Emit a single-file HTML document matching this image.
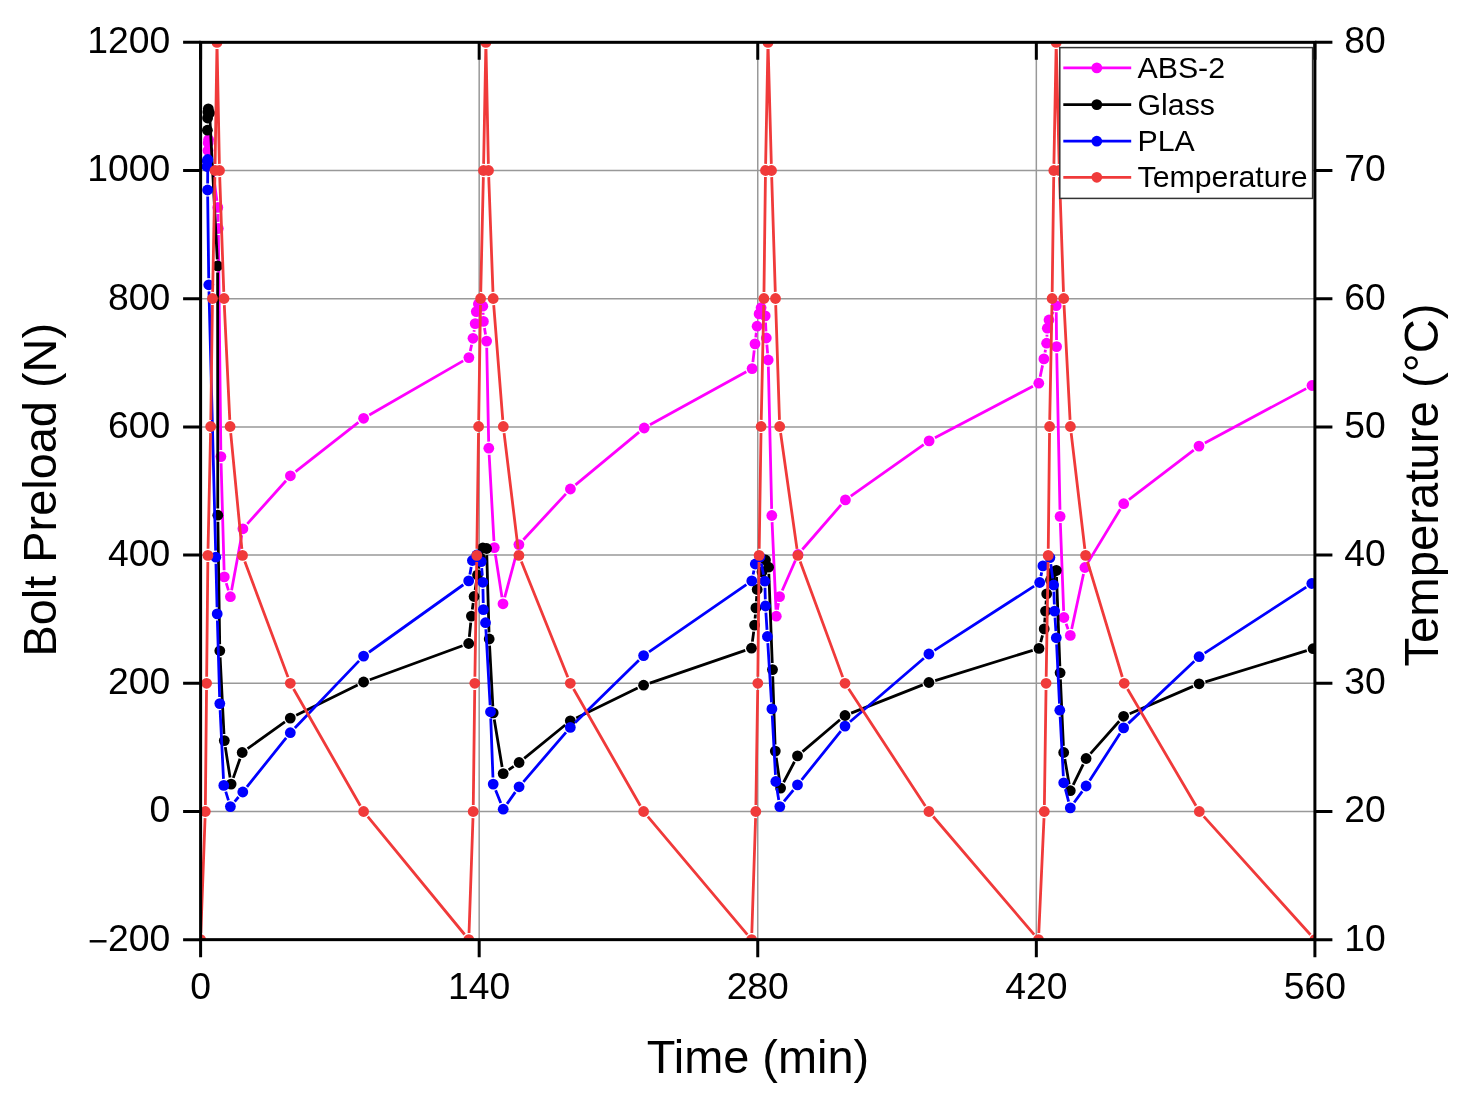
<!DOCTYPE html>
<html><head><meta charset="utf-8"><title>Bolt Preload vs Time</title>
<style>html,body{margin:0;padding:0;background:#fff;}svg{display:block;}</style>
</head><body>
<svg width="1468" height="1099" viewBox="0 0 1468 1099">
<rect x="0" y="0" width="1468" height="1099" fill="#ffffff"/>
<defs><clipPath id="pc"><rect x="200.6" y="42.32" width="1114.3000000000002" height="897.3299999999999"/></clipPath></defs>
<path d="M200.60 811.46H1314.90M200.60 683.27H1314.90M200.60 555.08H1314.90M200.60 426.89H1314.90M200.60 298.70H1314.90M200.60 170.51H1314.90M479.18 42.32V939.65M757.75 42.32V939.65M1036.33 42.32V939.65" stroke="#999999" stroke-width="1.5" fill="none"/>
<g clip-path="url(#pc)"><path d="M209.49 146.04L216.91 200.86M217.96 214.00L218.14 221.90M218.38 235.10L220.82 450.00M221.09 463.20L224.11 570.30M226.24 583.21L228.46 590.39M231.59 590.21L241.71 535.29M247.30 523.89L286.00 480.71M295.59 471.72L358.41 422.38M369.32 415.00L463.18 360.90M470.27 351.14L471.63 344.76M473.98 331.77L474.22 330.13M483.06 312.79L483.14 314.81M484.46 327.91L485.54 334.59M486.74 347.70L488.66 441.60M489.16 454.79L493.94 541.01M495.31 554.12L501.99 597.28M504.71 597.43L517.19 550.97M523.38 539.76L565.92 493.84M575.49 484.80L639.11 432.20M649.98 424.82L746.32 371.78M752.87 362.05L754.23 350.45M755.78 337.35L756.32 332.75M765.53 322.49L765.97 331.41M766.87 344.58L767.63 353.42M768.35 366.60L771.65 508.90M772.09 522.09L776.01 609.61M777.40 609.69L778.50 603.11M782.24 590.55L795.36 560.55M802.33 549.52L841.07 504.88M850.79 496.10L923.71 444.70M934.94 437.83L1032.96 386.27M1040.16 376.74L1042.54 365.36M1045.02 352.40L1045.48 349.70M1046.91 336.61L1046.99 334.79M1051.97 314.11L1053.23 311.59M1056.26 312.30L1056.54 340.00M1056.74 353.20L1059.96 509.80M1060.35 523.00L1063.65 610.90M1066.12 623.71L1068.08 629.19M1071.69 628.95L1083.51 573.95M1088.33 561.86L1120.27 509.34M1128.94 499.69L1193.76 450.11M1204.82 442.98L1306.18 388.62" stroke="#ff00ff" stroke-width="2.8" fill="none" stroke-linecap="butt"/><g fill="#ff00ff"><circle cx="208.00" cy="150.50" r="5.4"/><circle cx="208.20" cy="143.00" r="5.4"/><circle cx="208.60" cy="139.50" r="5.4"/><circle cx="217.80" cy="207.40" r="5.4"/><circle cx="218.30" cy="228.50" r="5.4"/><circle cx="220.90" cy="456.60" r="5.4"/><circle cx="224.30" cy="576.90" r="5.4"/><circle cx="230.40" cy="596.70" r="5.4"/><circle cx="242.90" cy="528.80" r="5.4"/><circle cx="290.40" cy="475.80" r="5.4"/><circle cx="363.60" cy="418.30" r="5.4"/><circle cx="468.90" cy="357.60" r="5.4"/><circle cx="473.00" cy="338.30" r="5.4"/><circle cx="475.20" cy="323.60" r="5.4"/><circle cx="476.30" cy="311.60" r="5.4"/><circle cx="478.40" cy="304.00" r="5.4"/><circle cx="482.80" cy="306.20" r="5.4"/><circle cx="483.40" cy="321.40" r="5.4"/><circle cx="486.60" cy="341.10" r="5.4"/><circle cx="488.80" cy="448.20" r="5.4"/><circle cx="494.30" cy="547.60" r="5.4"/><circle cx="503.00" cy="603.80" r="5.4"/><circle cx="518.90" cy="544.60" r="5.4"/><circle cx="570.40" cy="489.00" r="5.4"/><circle cx="644.20" cy="428.00" r="5.4"/><circle cx="752.10" cy="368.60" r="5.4"/><circle cx="755.00" cy="343.90" r="5.4"/><circle cx="757.10" cy="326.20" r="5.4"/><circle cx="759.10" cy="313.90" r="5.4"/><circle cx="761.10" cy="307.70" r="5.4"/><circle cx="765.20" cy="315.90" r="5.4"/><circle cx="766.30" cy="338.00" r="5.4"/><circle cx="768.20" cy="360.00" r="5.4"/><circle cx="771.80" cy="515.50" r="5.4"/><circle cx="776.30" cy="616.20" r="5.4"/><circle cx="779.60" cy="596.60" r="5.4"/><circle cx="798.00" cy="554.50" r="5.4"/><circle cx="845.40" cy="499.90" r="5.4"/><circle cx="929.10" cy="440.90" r="5.4"/><circle cx="1038.80" cy="383.20" r="5.4"/><circle cx="1043.90" cy="358.90" r="5.4"/><circle cx="1046.60" cy="343.20" r="5.4"/><circle cx="1047.30" cy="328.20" r="5.4"/><circle cx="1049.00" cy="320.00" r="5.4"/><circle cx="1056.20" cy="305.70" r="5.4"/><circle cx="1056.60" cy="346.60" r="5.4"/><circle cx="1060.10" cy="516.40" r="5.4"/><circle cx="1063.90" cy="617.50" r="5.4"/><circle cx="1070.30" cy="635.40" r="5.4"/><circle cx="1084.90" cy="567.50" r="5.4"/><circle cx="1123.70" cy="503.70" r="5.4"/><circle cx="1199.00" cy="446.10" r="5.4"/><circle cx="1312.00" cy="385.50" r="5.4"/></g></g>
<g clip-path="url(#pc)"><path d="M209.94 119.59L217.26 259.31M217.61 272.50L217.79 508.60M217.90 521.80L219.70 644.20M220.13 657.39L223.97 734.01M225.32 747.12L230.08 777.58M233.29 777.87L240.01 758.73M247.57 748.66L284.93 721.94M296.22 715.18L357.68 684.92M369.80 679.73L462.50 645.77M469.35 636.93L470.75 622.67M472.30 609.56L473.20 603.04M475.13 589.98L476.47 581.52M478.65 568.50L479.35 564.50M486.79 555.10L489.01 632.40M489.56 645.59L492.84 706.31M494.27 719.41L502.13 767.09M508.61 769.82L513.69 766.28M524.22 758.33L565.18 724.97M576.24 717.92L637.66 688.08M649.84 683.06L745.26 650.34M752.38 641.66L753.72 631.64M755.10 618.52L755.40 614.48M756.37 601.32L756.73 596.08M758.95 583.14L760.25 578.36M768.85 573.80L772.25 663.00M772.73 676.20L775.07 744.50M776.24 757.63L779.66 781.57M783.67 782.26L794.43 761.74M802.53 751.62L839.97 719.78M851.14 713.08L922.76 684.92M935.20 680.55L1032.70 650.35M1040.70 642.02L1042.50 635.28M1044.68 622.32L1045.02 617.68M1045.96 604.52L1046.24 600.48M1048.44 587.53L1048.76 586.37M1056.54 577.00L1059.86 666.20M1060.40 679.39L1063.40 745.91M1064.82 759.00L1069.18 784.20M1073.21 784.77L1083.19 764.43M1090.48 753.57L1119.22 721.23M1129.66 713.69L1193.04 686.41M1205.41 681.86L1306.79 650.64" stroke="#000000" stroke-width="2.8" fill="none" stroke-linecap="butt"/><g fill="#000000"><circle cx="207.40" cy="130.20" r="5.4"/><circle cx="207.60" cy="118.00" r="5.4"/><circle cx="207.90" cy="112.00" r="5.4"/><circle cx="208.30" cy="108.80" r="5.4"/><circle cx="209.60" cy="113.00" r="5.4"/><circle cx="217.60" cy="265.90" r="5.4"/><circle cx="217.80" cy="515.20" r="5.4"/><circle cx="219.80" cy="650.80" r="5.4"/><circle cx="224.30" cy="740.60" r="5.4"/><circle cx="231.10" cy="784.10" r="5.4"/><circle cx="242.20" cy="752.50" r="5.4"/><circle cx="290.30" cy="718.10" r="5.4"/><circle cx="363.60" cy="682.00" r="5.4"/><circle cx="468.70" cy="643.50" r="5.4"/><circle cx="471.40" cy="616.10" r="5.4"/><circle cx="474.10" cy="596.50" r="5.4"/><circle cx="477.50" cy="575.00" r="5.4"/><circle cx="480.50" cy="558.00" r="5.4"/><circle cx="482.80" cy="548.00" r="5.4"/><circle cx="486.60" cy="548.50" r="5.4"/><circle cx="489.20" cy="639.00" r="5.4"/><circle cx="493.20" cy="712.90" r="5.4"/><circle cx="503.20" cy="773.60" r="5.4"/><circle cx="519.10" cy="762.50" r="5.4"/><circle cx="570.30" cy="720.80" r="5.4"/><circle cx="643.60" cy="685.20" r="5.4"/><circle cx="751.50" cy="648.20" r="5.4"/><circle cx="754.60" cy="625.10" r="5.4"/><circle cx="755.90" cy="607.90" r="5.4"/><circle cx="757.20" cy="589.50" r="5.4"/><circle cx="762.00" cy="572.00" r="5.4"/><circle cx="765.50" cy="560.00" r="5.4"/><circle cx="768.60" cy="567.20" r="5.4"/><circle cx="772.50" cy="669.60" r="5.4"/><circle cx="775.30" cy="751.10" r="5.4"/><circle cx="780.60" cy="788.10" r="5.4"/><circle cx="797.50" cy="755.90" r="5.4"/><circle cx="845.00" cy="715.50" r="5.4"/><circle cx="928.90" cy="682.50" r="5.4"/><circle cx="1039.00" cy="648.40" r="5.4"/><circle cx="1044.20" cy="628.90" r="5.4"/><circle cx="1045.50" cy="611.10" r="5.4"/><circle cx="1046.70" cy="593.90" r="5.4"/><circle cx="1050.50" cy="580.00" r="5.4"/><circle cx="1053.50" cy="572.00" r="5.4"/><circle cx="1056.30" cy="570.40" r="5.4"/><circle cx="1060.10" cy="672.80" r="5.4"/><circle cx="1063.70" cy="752.50" r="5.4"/><circle cx="1070.30" cy="790.70" r="5.4"/><circle cx="1086.10" cy="758.50" r="5.4"/><circle cx="1123.60" cy="716.30" r="5.4"/><circle cx="1199.10" cy="683.80" r="5.4"/><circle cx="1313.10" cy="648.70" r="5.4"/></g></g>
<g clip-path="url(#pc)"><path d="M207.76 166.10L207.64 183.40M207.68 196.60L208.72 278.20M208.97 291.40L215.63 550.60M215.96 563.80L217.04 607.30M217.39 620.50L219.61 697.00M220.12 710.19L223.48 778.81M225.76 791.70L228.44 800.30M234.67 801.57L238.53 797.03M246.93 786.85L286.17 737.85M294.86 727.93L359.04 660.87M368.97 652.26L463.33 584.74M469.88 574.41L471.22 566.99M481.71 568.18L482.29 575.72M482.95 588.90L483.25 603.00M485.87 629.29L490.13 705.21M490.75 718.40L492.95 777.50M495.64 790.23L500.76 803.07M507.02 803.82L515.28 792.18M523.41 781.80L565.99 732.40M575.01 722.78L638.89 660.22M649.03 651.85L746.37 584.65M753.14 574.44L753.96 570.46M761.28 563.47L763.52 574.73M764.99 587.80L765.31 599.40M765.91 612.59L766.99 629.91M767.81 643.09L771.49 702.31M772.25 715.49L775.45 774.91M776.84 788.02L778.76 800.08M783.97 801.49L793.33 790.01M801.65 779.77L840.85 731.23M850.01 721.80L923.89 658.30M934.45 650.42L1034.15 586.08M1040.95 576.02L1041.65 572.38M1050.78 564.14L1052.72 578.46M1053.85 591.60L1054.35 604.50M1055.02 617.69L1055.88 631.21M1056.62 644.39L1059.48 703.61M1060.15 716.79L1063.35 776.21M1065.38 789.18L1068.62 801.52M1074.16 802.55L1082.24 791.35M1089.68 780.45L1120.02 733.45M1128.40 723.37L1194.30 661.23M1204.63 653.10L1306.27 587.10" stroke="#0000ff" stroke-width="2.8" fill="none" stroke-linecap="butt"/><g fill="#0000ff"><circle cx="207.00" cy="166.50" r="5.4"/><circle cx="207.20" cy="161.00" r="5.4"/><circle cx="207.80" cy="159.50" r="5.4"/><circle cx="207.60" cy="190.00" r="5.4"/><circle cx="208.80" cy="284.80" r="5.4"/><circle cx="215.80" cy="557.20" r="5.4"/><circle cx="217.20" cy="613.90" r="5.4"/><circle cx="219.80" cy="703.60" r="5.4"/><circle cx="223.80" cy="785.40" r="5.4"/><circle cx="230.40" cy="806.60" r="5.4"/><circle cx="242.80" cy="792.00" r="5.4"/><circle cx="290.30" cy="732.70" r="5.4"/><circle cx="363.60" cy="656.10" r="5.4"/><circle cx="468.70" cy="580.90" r="5.4"/><circle cx="472.40" cy="560.50" r="5.4"/><circle cx="476.80" cy="555.00" r="5.4"/><circle cx="481.20" cy="561.60" r="5.4"/><circle cx="482.80" cy="582.30" r="5.4"/><circle cx="483.40" cy="609.60" r="5.4"/><circle cx="485.50" cy="622.70" r="5.4"/><circle cx="490.50" cy="711.80" r="5.4"/><circle cx="493.20" cy="784.10" r="5.4"/><circle cx="503.20" cy="809.20" r="5.4"/><circle cx="519.10" cy="786.80" r="5.4"/><circle cx="570.30" cy="727.40" r="5.4"/><circle cx="643.60" cy="655.60" r="5.4"/><circle cx="751.80" cy="580.90" r="5.4"/><circle cx="755.30" cy="564.00" r="5.4"/><circle cx="760.00" cy="557.00" r="5.4"/><circle cx="764.80" cy="581.20" r="5.4"/><circle cx="765.50" cy="606.00" r="5.4"/><circle cx="767.40" cy="636.50" r="5.4"/><circle cx="771.90" cy="708.90" r="5.4"/><circle cx="775.80" cy="781.50" r="5.4"/><circle cx="779.80" cy="806.60" r="5.4"/><circle cx="797.50" cy="784.90" r="5.4"/><circle cx="845.00" cy="726.10" r="5.4"/><circle cx="928.90" cy="654.00" r="5.4"/><circle cx="1039.70" cy="582.50" r="5.4"/><circle cx="1042.90" cy="565.90" r="5.4"/><circle cx="1049.90" cy="557.60" r="5.4"/><circle cx="1053.60" cy="585.00" r="5.4"/><circle cx="1054.60" cy="611.10" r="5.4"/><circle cx="1056.30" cy="637.80" r="5.4"/><circle cx="1059.80" cy="710.20" r="5.4"/><circle cx="1063.70" cy="782.80" r="5.4"/><circle cx="1070.30" cy="807.90" r="5.4"/><circle cx="1086.10" cy="786.00" r="5.4"/><circle cx="1123.60" cy="727.90" r="5.4"/><circle cx="1199.10" cy="656.70" r="5.4"/><circle cx="1311.80" cy="583.50" r="5.4"/></g></g>
<g clip-path="url(#pc)"><path d="M200.84 933.00L205.06 818.10M205.37 804.90L206.53 689.90M206.67 676.70L207.83 562.00M208.04 548.80L210.56 433.10M210.79 419.90L212.41 305.10M212.63 291.90L214.87 177.10M215.10 163.90L216.90 49.00M217.13 49.00L219.37 163.90M219.73 177.10L223.77 291.90M224.31 305.09L229.79 419.91M230.73 433.07L241.87 548.83M244.81 561.58L287.99 677.12M293.58 689.03L360.32 805.77M367.79 816.60L464.61 934.50M469.03 933.00L472.97 818.10M473.28 804.90L474.72 689.90M474.90 676.70L476.70 562.00M476.89 548.80L478.51 433.10M478.70 419.90L480.50 305.10M480.75 291.90L483.35 177.10M483.62 163.90L485.78 49.00M486.03 49.00L488.37 163.90M488.74 177.10L492.96 291.90M493.72 305.08L502.78 419.92M504.09 433.05L518.11 548.85M521.36 561.52L567.84 677.18M573.58 689.03L640.32 805.77M647.85 816.55L747.35 934.55M751.82 933.00L755.58 818.10M755.90 804.90L757.70 689.90M757.87 676.70L759.03 562.00M759.20 548.80L761.00 433.10M761.24 419.90L763.76 305.10M763.98 291.90L765.42 177.10M765.63 163.90L767.87 49.00M768.18 49.00L771.32 163.90M771.71 177.10L775.29 291.90M775.72 305.10L779.48 419.90M780.62 433.04L796.98 548.86M800.18 561.59L842.72 677.11M848.61 688.82L925.29 805.98M933.19 816.51L1034.21 934.59M1038.80 933.01L1044.00 818.09M1044.39 804.90L1046.01 689.90M1046.21 676.70L1048.09 562.00M1048.27 548.80L1049.53 433.10M1049.73 419.90L1051.97 305.10M1052.19 291.90L1053.71 177.10M1053.92 163.90L1056.08 49.00M1056.36 49.00L1059.14 163.90M1059.53 177.10L1063.47 291.90M1064.04 305.09L1070.06 419.91M1071.17 433.05L1084.83 548.85M1087.51 561.72L1122.29 676.98M1127.54 688.99L1195.96 805.81M1203.72 816.40L1310.48 934.70" stroke="#f03a3a" stroke-width="2.8" fill="none" stroke-linecap="butt"/><g fill="#f03a3a"><circle cx="200.60" cy="939.60" r="5.4"/><circle cx="205.30" cy="811.50" r="5.4"/><circle cx="206.60" cy="683.30" r="5.4"/><circle cx="207.90" cy="555.40" r="5.4"/><circle cx="210.70" cy="426.50" r="5.4"/><circle cx="212.50" cy="298.50" r="5.4"/><circle cx="215.00" cy="170.50" r="5.4"/><circle cx="217.00" cy="42.40" r="5.4"/><circle cx="219.50" cy="170.50" r="5.4"/><circle cx="224.00" cy="298.50" r="5.4"/><circle cx="230.10" cy="426.50" r="5.4"/><circle cx="242.50" cy="555.40" r="5.4"/><circle cx="290.30" cy="683.30" r="5.4"/><circle cx="363.60" cy="811.50" r="5.4"/><circle cx="468.80" cy="939.60" r="5.4"/><circle cx="473.20" cy="811.50" r="5.4"/><circle cx="474.80" cy="683.30" r="5.4"/><circle cx="476.80" cy="555.40" r="5.4"/><circle cx="478.60" cy="426.50" r="5.4"/><circle cx="480.60" cy="298.50" r="5.4"/><circle cx="483.50" cy="170.50" r="5.4"/><circle cx="485.90" cy="42.40" r="5.4"/><circle cx="488.50" cy="170.50" r="5.4"/><circle cx="493.20" cy="298.50" r="5.4"/><circle cx="503.30" cy="426.50" r="5.4"/><circle cx="518.90" cy="555.40" r="5.4"/><circle cx="570.30" cy="683.30" r="5.4"/><circle cx="643.60" cy="811.50" r="5.4"/><circle cx="751.60" cy="939.60" r="5.4"/><circle cx="755.80" cy="811.50" r="5.4"/><circle cx="757.80" cy="683.30" r="5.4"/><circle cx="759.10" cy="555.40" r="5.4"/><circle cx="761.10" cy="426.50" r="5.4"/><circle cx="763.90" cy="298.50" r="5.4"/><circle cx="765.50" cy="170.50" r="5.4"/><circle cx="768.00" cy="42.40" r="5.4"/><circle cx="771.50" cy="170.50" r="5.4"/><circle cx="775.50" cy="298.50" r="5.4"/><circle cx="779.70" cy="426.50" r="5.4"/><circle cx="797.90" cy="555.40" r="5.4"/><circle cx="845.00" cy="683.30" r="5.4"/><circle cx="928.90" cy="811.50" r="5.4"/><circle cx="1038.50" cy="939.60" r="5.4"/><circle cx="1044.30" cy="811.50" r="5.4"/><circle cx="1046.10" cy="683.30" r="5.4"/><circle cx="1048.20" cy="555.40" r="5.4"/><circle cx="1049.60" cy="426.50" r="5.4"/><circle cx="1052.10" cy="298.50" r="5.4"/><circle cx="1053.80" cy="170.50" r="5.4"/><circle cx="1056.20" cy="42.40" r="5.4"/><circle cx="1059.30" cy="170.50" r="5.4"/><circle cx="1063.70" cy="298.50" r="5.4"/><circle cx="1070.40" cy="426.50" r="5.4"/><circle cx="1085.60" cy="555.40" r="5.4"/><circle cx="1124.20" cy="683.30" r="5.4"/><circle cx="1199.30" cy="811.50" r="5.4"/><circle cx="1314.90" cy="939.60" r="5.4"/></g></g>
<rect x="1059.8" y="47.6" width="252.79999999999995" height="150.8" fill="#ffffff" stroke="#333333" stroke-width="1.5"/>
<path d="M1063.3 67.9H1131.2" stroke="#ff00ff" stroke-width="2.8"/>
<circle cx="1096.8" cy="67.9" r="5.4" fill="#ff00ff"/>
<text x="1137.5" y="78.3" font-family="'Liberation Sans', Arial, Helvetica, sans-serif" font-size="30.3" fill="#000">ABS-2</text>
<path d="M1063.3 104.6H1131.2" stroke="#000000" stroke-width="2.8"/>
<circle cx="1096.8" cy="104.6" r="5.4" fill="#000000"/>
<text x="1137.5" y="114.5" font-family="'Liberation Sans', Arial, Helvetica, sans-serif" font-size="30.3" fill="#000">Glass</text>
<path d="M1063.3 141.2H1131.2" stroke="#0000ff" stroke-width="2.8"/>
<circle cx="1096.8" cy="141.2" r="5.4" fill="#0000ff"/>
<text x="1137.5" y="150.8" font-family="'Liberation Sans', Arial, Helvetica, sans-serif" font-size="30.3" fill="#000">PLA</text>
<path d="M1063.3 177.3H1131.2" stroke="#f03a3a" stroke-width="2.8"/>
<circle cx="1096.8" cy="177.3" r="5.4" fill="#f03a3a"/>
<text x="1137.5" y="187.1" font-family="'Liberation Sans', Arial, Helvetica, sans-serif" font-size="30.3" fill="#000">Temperature</text>
<rect x="200.6" y="42.32" width="1114.3000000000002" height="897.3299999999999" fill="none" stroke="#000" stroke-width="3.0"/>
<path d="M183.10 939.65H200.60M1314.90 939.65H1332.40M183.10 811.46H200.60M1314.90 811.46H1332.40M183.10 683.27H200.60M1314.90 683.27H1332.40M183.10 555.08H200.60M1314.90 555.08H1332.40M183.10 426.89H200.60M1314.90 426.89H1332.40M183.10 298.70H200.60M1314.90 298.70H1332.40M183.10 170.51H200.60M1314.90 170.51H1332.40M183.10 42.32H200.60M1314.90 42.32H1332.40M200.60 939.65V957.15M200.60 42.32V59.82M479.18 939.65V957.15M479.18 42.32V59.82M757.75 939.65V957.15M757.75 42.32V59.82M1036.33 939.65V957.15M1036.33 42.32V59.82M1314.90 939.65V957.15M1314.90 42.32V59.82" stroke="#000" stroke-width="3.0" fill="none"/>
<g font-family="'Liberation Sans', Arial, Helvetica, sans-serif" font-size="37.3" fill="#000"><text x="170.3" y="950.55" text-anchor="end"><tspan font-size="34.7" dy="2.8">−</tspan><tspan dy="-2.8">200</tspan></text><text x="170.3" y="822.36" text-anchor="end">0</text><text x="170.3" y="694.17" text-anchor="end">200</text><text x="170.3" y="565.98" text-anchor="end">400</text><text x="170.3" y="437.79" text-anchor="end">600</text><text x="170.3" y="309.60" text-anchor="end">800</text><text x="170.3" y="181.41" text-anchor="end">1000</text><text x="170.3" y="53.22" text-anchor="end">1200</text><text x="1344.2" y="950.55">10</text><text x="1344.2" y="822.36">20</text><text x="1344.2" y="694.17">30</text><text x="1344.2" y="565.98">40</text><text x="1344.2" y="437.79">50</text><text x="1344.2" y="309.60">60</text><text x="1344.2" y="181.41">70</text><text x="1344.2" y="53.22">80</text><text x="200.60" y="998.6" text-anchor="middle">0</text><text x="479.18" y="998.6" text-anchor="middle">140</text><text x="757.75" y="998.6" text-anchor="middle">280</text><text x="1036.33" y="998.6" text-anchor="middle">420</text><text x="1314.90" y="998.6" text-anchor="middle">560</text></g>
<text x="758" y="1072.8" text-anchor="middle" font-family="'Liberation Sans', Arial, Helvetica, sans-serif" font-size="46.9" fill="#000">Time (min)</text>
<text transform="translate(55.6 489.75) rotate(-90)" text-anchor="middle" font-family="'Liberation Sans', Arial, Helvetica, sans-serif" font-size="46.9" fill="#000">Bolt Preload (N)</text>
<text transform="translate(1438.3 485.0) rotate(-90)" text-anchor="middle" font-family="'Liberation Sans', Arial, Helvetica, sans-serif" font-size="47.3" fill="#000">Temperature (°C)</text>
</svg>
</body></html>
